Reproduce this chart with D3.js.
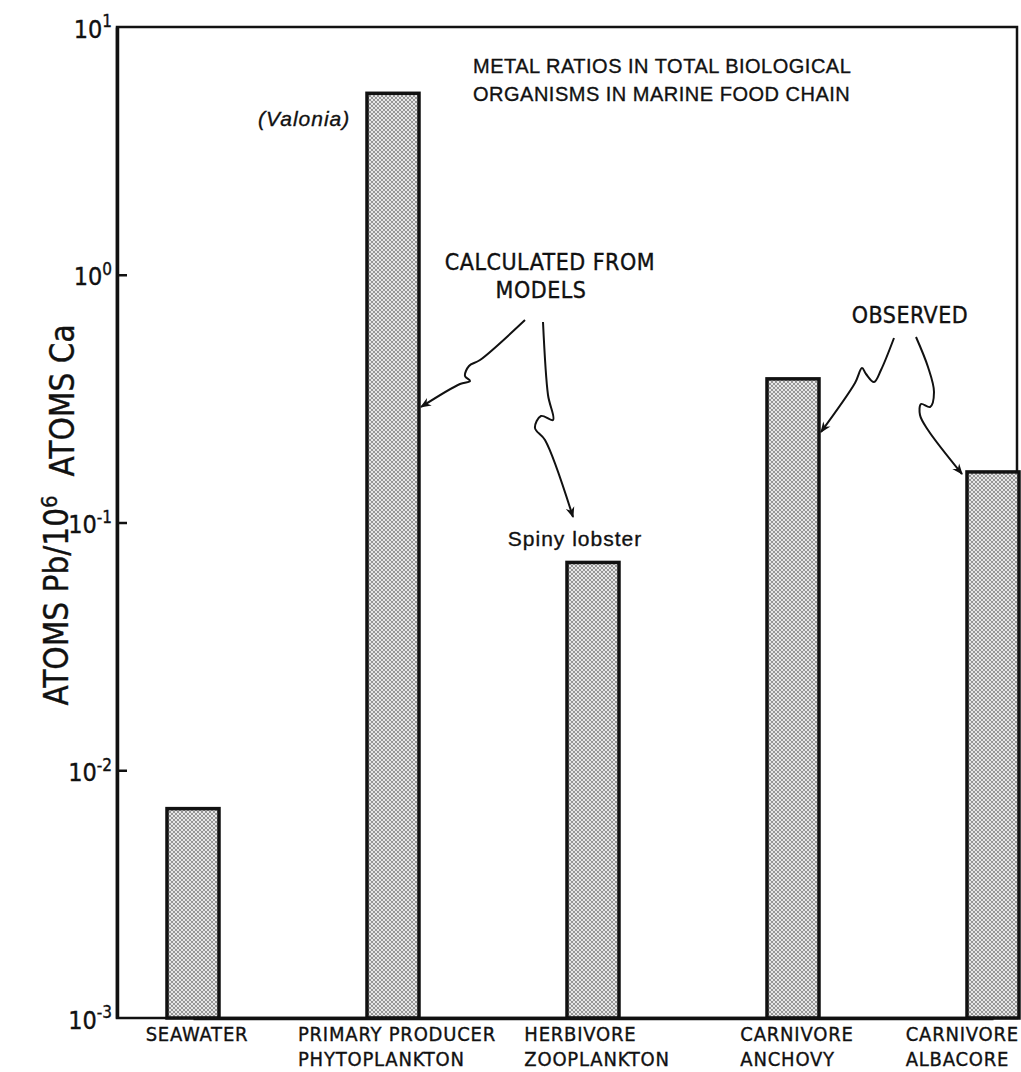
<!DOCTYPE html>
<html>
<head>
<meta charset="utf-8">
<script src="https://cdn.jsdelivr.net/npm/d3@7"></script>
<style>
  body { margin: 0; background: #fff; }
  text { font-family: "Liberation Sans Narrow", "DejaVu Sans Condensed", "Liberation Sans", sans-serif; fill: #111; stroke: #111; stroke-width: 0.35px; }
  .wide { font-family: "Liberation Sans", Arial, sans-serif; }
</style>
</head>
<body>
<div id="chart"></div>
<script>
// category labels (two lines under each bar)
var categories = ["SEAWATER", "PRIMARY PRODUCER", "HERBIVORE", "CARNIVORE", "CARNIVORE"];
var subLabels = ["", "PHYTOPLANKTON", "ZOOPLANKTON", "ANCHOVY", "ALBACORE"];
// atoms Pb / 10^6 atoms Ca
var ratios = [0.007, 5.4, 0.069, 0.38, 0.16];
var tickValues = [1e-3, 1e-2, 1e-1, 1e0, 1e1];
var tickExponents = ["-3", "-2", "-1", "0", "1"];

var keys = categories.map(function(c, i){ return c + " " + subLabels[i]; });

function Create_Chart(){

  var margin = {top: 27, right: 3, bottom: 54, left: 117},
      width = 1021 - margin.left - margin.right,
      height = 1072 - margin.top - margin.bottom,
      barWidth = 52;

  var svg = d3.select("#chart")
    .append("svg")
      .attr("width", 1021)
      .attr("height", 1072);

  var defs = svg.append("defs");

  // stippled grey fill like the printed screen tone
  var pat = defs.append("pattern")
      .attr("id", "stipple")
      .attr("patternUnits", "userSpaceOnUse")
      .attr("width", 4).attr("height", 4);
  pat.append("rect").attr("width", 4).attr("height", 4).attr("fill", "#e6e6e6");
  pat.append("circle").attr("cx", 1).attr("cy", 1).attr("r", 0.9).attr("fill", "#707070");
  pat.append("circle").attr("cx", 3).attr("cy", 3).attr("r", 0.9).attr("fill", "#707070");

  defs.append("marker")
      .attr("id", "head")
      .attr("viewBox", "0 0 10 10")
      .attr("refX", 9).attr("refY", 5)
      .attr("markerWidth", 16).attr("markerHeight", 11)
      .attr("markerUnits", "userSpaceOnUse")
      .attr("orient", "auto")
    .append("path")
      .attr("d", "M0,1 L10,5 L0,9 L3,5 Z")
      .attr("fill", "#111");

  var g = svg.append("g")
      .attr("transform", "translate(" + margin.left + "," + margin.top + ")");

  var x = d3.scalePoint()
      .domain(keys)
      .range([76, 876]);

  var y = d3.scaleLog()
      .domain([1e-3, 1e1])
      .range([height, 0]);

  // frame (top and right)
  g.append("rect")
      .attr("width", width - 1)
      .attr("height", height)
      .attr("fill", "none")
      .attr("stroke", "#111")
      .attr("stroke-width", 2.5);

  // bars
  g.append("g")
    .selectAll("rect")
    .data(ratios)
    .enter().append("rect")
      .attr("x", function(d, i){ return x(keys[i]) - barWidth / 2; })
      .attr("y", function(d){ return y(d); })
      .attr("width", barWidth)
      .attr("height", function(d){ return height - y(d); })
      .attr("fill", "url(#stipple)")
      .attr("stroke", "#111")
      .attr("stroke-width", 3.5);

  // y axis
  var yAxis = g.append("g")
      .call(d3.axisLeft(y)
        .tickValues(tickValues)
        .tickSize(-10)
        .tickSizeOuter(0)
        .tickPadding(5));
  yAxis.select(".domain").attr("stroke", "#111").attr("stroke-width", 3.5);
  yAxis.selectAll(".tick line")
      .attr("stroke", "#111")
      .attr("stroke-width", 2.5)
      .attr("display", function(d){ return (d == 1e-3 || d == 1e1) ? "none" : null; });
  yAxis.selectAll(".tick text").each(function(d, i){
    var t = d3.select(this);
    t.text(null)
      .attr("dy", "0.4em")
      .attr("font-size", "25px")
      .attr("fill", "#111");
    t.append("tspan").text("10");
    t.append("tspan").attr("dy", "-0.6em").attr("font-size", "17px").text(tickExponents[i]);
  });

  // x axis (line only)
  var xAxis = g.append("g")
      .attr("transform", "translate(0," + height + ")")
      .call(d3.axisBottom(x).tickSize(0).tickSizeOuter(0).tickFormat(""));
  xAxis.select(".domain").attr("stroke", "#111").attr("stroke-width", 3.5);

  // two-line category labels, block centred under the bar
  keys.forEach(function(k, i){
    var lab = svg.append("g");
    var t1 = lab.append("text")
        .attr("y", 1041).attr("font-size", "20px").attr("letter-spacing", "0.8px").text(categories[i]);
    var t2 = lab.append("text")
        .attr("y", 1066).attr("font-size", "20px").attr("letter-spacing", "0.8px").text(subLabels[i]);
    var w = Math.max(t1.node().getComputedTextLength(), t2.node().getComputedTextLength());
    var left = Math.min(margin.left + x(k) - w / 2 + 4, 1019 - w);
    lab.attr("transform", "translate(" + left + ",0)");
  });

  // y axis title
  var yt = svg.append("text")
      .attr("transform", "translate(68,515) rotate(-90)")
      .attr("text-anchor", "middle")
      .attr("font-size", "33px");
  yt.append("tspan").text("ATOMS Pb/10");
  yt.append("tspan").attr("dy", "-0.5em").attr("font-size", "22px").text("6");
  yt.append("tspan").attr("dy", "0.5em").text("\u00a0 ATOMS Ca");

  // title
  svg.append("text").attr("class", "wide")
      .attr("x", 473).attr("y", 73)
      .attr("font-size", "20px").attr("letter-spacing", "0.5px")
      .text("METAL RATIOS IN TOTAL BIOLOGICAL");
  svg.append("text").attr("class", "wide")
      .attr("x", 473).attr("y", 101)
      .attr("font-size", "20px").attr("letter-spacing", "0.5px")
      .text("ORGANISMS IN MARINE FOOD CHAIN");

  // notes
  svg.append("text").attr("class", "wide")
      .attr("x", 258).attr("y", 126)
      .attr("font-size", "21px").attr("font-style", "italic").attr("letter-spacing", "1px")
      .text("(Valonia)");
  svg.append("text")
      .attr("x", 550).attr("y", 270).attr("text-anchor", "middle")
      .attr("font-size", "23px").attr("letter-spacing", "0.5px")
      .text("CALCULATED FROM");
  svg.append("text")
      .attr("x", 541).attr("y", 298).attr("text-anchor", "middle")
      .attr("font-size", "23px").attr("letter-spacing", "0.5px")
      .text("MODELS");
  svg.append("text").attr("class", "wide")
      .attr("x", 575).attr("y", 546).attr("text-anchor", "middle")
      .attr("font-size", "21px").attr("letter-spacing", "1px")
      .text("Spiny lobster");
  svg.append("text")
      .attr("x", 910).attr("y", 323).attr("text-anchor", "middle")
      .attr("font-size", "23px").attr("letter-spacing", "0.5px")
      .text("OBSERVED");

  // wavy pointer arrows
  var arrows = [
    [[525, 320], [480, 360], [469, 366], [465, 376], [470, 381], [460, 384], [421, 407]],
    [[543, 322], [548, 395], [553, 420], [541, 416], [535, 428], [545, 440], [573, 517]],
    [[894, 338], [881, 370], [874, 382], [866, 374], [862, 368], [855, 383], [821, 432]],
    [[916, 337], [928, 367], [934, 392], [930, 407], [921, 404], [920, 415], [928, 430], [962, 474]]
  ];
  var line = d3.line().curve(d3.curveCatmullRom.alpha(0.5));
  svg.append("g")
    .selectAll("path")
    .data(arrows)
    .enter().append("path")
      .attr("d", line)
      .attr("fill", "none")
      .attr("stroke", "#111")
      .attr("stroke-width", 2)
      .attr("marker-end", "url(#head)");
}

Create_Chart();
</script>
</body>
</html>
